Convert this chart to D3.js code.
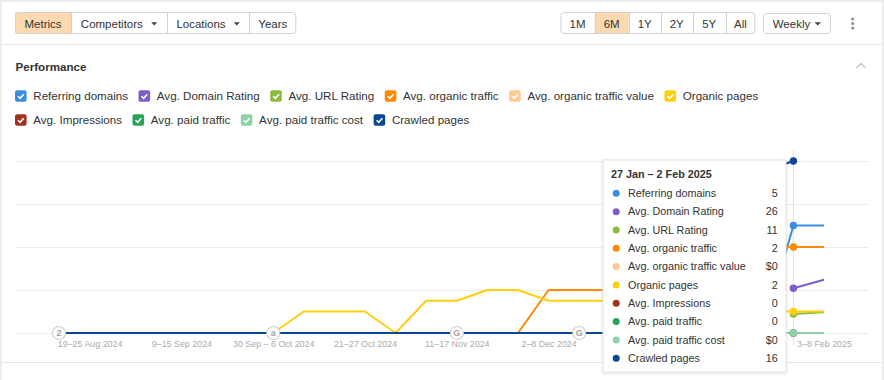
<!DOCTYPE html>
<html><head><meta charset="utf-8">
<script src="https://cdn.jsdelivr.net/npm/d3@7"></script>
<style>
html,body{margin:0;padding:0;background:#ececec;}
svg{display:block;font-family:"Liberation Sans",Arial,sans-serif;}
</style></head><body>
<svg id="c" width="884" height="380"></svg>
<script>
// ---------- DATA ----------
const weeks = ["2024-08-12","2024-08-19","2024-08-26","2024-09-02","2024-09-09","2024-09-16","2024-09-23","2024-09-30","2024-10-07","2024-10-14","2024-10-21","2024-10-28","2024-11-04","2024-11-11","2024-11-18","2024-11-25","2024-12-02","2024-12-09","2024-12-16","2024-12-23","2024-12-30","2025-01-06","2025-01-13","2025-01-20","2025-01-27","2025-02-03"];
const seriesNames = ["Referring domains","Avg. Domain Rating","Avg. URL Rating","Avg. organic traffic","Avg. organic traffic value","Organic pages","Avg. Impressions","Avg. paid traffic","Avg. paid traffic cost","Crawled pages"];
const seriesColors = ["#3a8ee0","#7b5fc6","#8cbd3e","#ff8a00","#ffc890","#ffcf0f","#a3321c","#27a35a","#8ed2a8","#0b4697"];
const referringDomains   = [0,0,0,0,0,0,0,0,0,0,0,0,0,0,0,0,0,0,0,0,0,0,0,0,5,5];
const domainRating       = [null,null,null,null,null,null,null,null,null,null,null,null,null,null,null,null,null,null,null,null,null,null,null,null,26,31];
const urlRating          = [null,null,null,null,null,null,null,null,null,null,null,null,null,null,null,null,null,null,null,null,null,null,null,null,11,12];
const organicTraffic     = [0,0,0,0,0,0,0,0,0,0,0,0,0,0,0,0,1,1,1,1,1,2,2,2,2,2];
const organicTrafficValue= [0,0,0,0,0,0,0,0,0,0,0,0,0,0,0,0,0,0,0,0,0,0,0,0,0,0];
const organicPages       = [0,0,0,0,0,0,0,0,2,2,2,0,3,3,4,4,3,3,3,3,3,2,2,2,2,2];
const impressions        = [0,0,0,0,0,0,0,0,0,0,0,0,0,0,0,0,0,0,0,0,0,0,0,0,0,0];
const paidTraffic        = [0,0,0,0,0,0,0,0,0,0,0,0,0,0,0,0,0,0,0,0,0,0,0,0,0,0];
const paidTrafficCost    = [0,0,0,0,0,0,0,0,0,0,0,0,0,0,0,0,0,0,0,0,0,0,0,0,0,0];
const crawledPages       = [0,0,0,0,0,0,0,0,0,0,0,0,0,0,0,0,0,0,0,0,0,0,12,15,16,null];
const seriesValues = [referringDomains,domainRating,urlRating,organicTraffic,organicTrafficValue,organicPages,impressions,paidTraffic,paidTrafficCost,crawledPages];
const axisMax = [8,100,100,4,1,16,1,1,1,16];
const isCurrency = [false,false,false,false,true,false,false,false,true,false];
// visible tick labels (the two under the tooltip are hidden in the view)
const tickWeeks = ["2024-08-19","2024-09-09","2024-09-30","2024-10-21","2024-11-11","2024-12-02","2025-02-03"];
const tickLabels = ["19–25 Aug 2024","9–15 Sep 2024","30 Sep – 6 Oct 2024","21–27 Oct 2024","11–17 Nov 2024","2–8 Dec 2024","3–8 Feb 2025"];
const annotationWeeks = ["2024-08-12","2024-09-30","2024-11-11","2024-12-09"];
const annotationLabels = ["2","a","G","G"];
const hoverWeek = "2025-01-27";
const hoverTitle = "27 Jan – 2 Feb 2025";
const leftButtons = ["Metrics","Competitors","Locations","Years"];
const rangeButtons = ["1M","6M","1Y","2Y","5Y","All"];

// ---------- DRAW ----------
const svg = d3.select("#c");
const parse = d3.utcParse("%Y-%m-%d");
const dates = weeks.map(parse);
const yTop = 161, yBot = 333;
const x = d3.scaleUtc().domain([dates[0], dates[dates.length-1]]).range([59, 824]);

// card
svg.append("rect").attr("x",2).attr("y",2).attr("width",880).attr("height",400).attr("fill","#fff");

// toolbar
const TXT = "#333";
function btnGroup(bounds, labels, active, arrows){
  const g = svg.append("g");
  labels.forEach((l,i)=>{
    if(i===active){
      g.append("rect").attr("x",bounds[i]).attr("y",12.5).attr("width",bounds[i+1]-bounds[i]).attr("height",21)
        .attr("fill","#fdd9b2");
    }
  });
  g.append("rect").attr("x",bounds[0]+0.5).attr("y",12.5).attr("width",bounds[bounds.length-1]-bounds[0]-1).attr("height",21)
    .attr("rx",3).attr("fill","none").attr("stroke","#d2d2d2");
  for(let i=1;i<bounds.length-1;i++){
    g.append("line").attr("x1",Math.round(bounds[i])+0.5).attr("x2",Math.round(bounds[i])+0.5).attr("y1",13).attr("y2",33).attr("stroke","#d2d2d2");
  }
  labels.forEach((l,i)=>{
    const hasArrow = arrows && arrows[i];
    const cx = (bounds[i]+bounds[i+1])/2 - (hasArrow?7:0);
    g.append("text").attr("x",cx).attr("y",27.8).attr("text-anchor","middle").attr("font-size",11.5).attr("fill",TXT).text(l);
    if(hasArrow){
      const ax = bounds[i+1]-12.5;
      g.append("path").attr("d",`M${ax-3},22.3L${ax+3},22.3L${ax},25.6Z`).attr("fill","#444");
    }
  });
}
btnGroup([15,71,166.7,249.3,296.3], leftButtons, 0, [false,true,true,false]);
btnGroup([560.5,594.7,628.7,660.7,692.7,725.7,755.3], rangeButtons, 1, null);
// weekly
svg.append("rect").attr("x",763.5).attr("y",13.5).attr("width",67).attr("height",20).attr("rx",3).attr("fill","#fff").attr("stroke","#d2d2d2");
svg.append("text").attr("x",772.7).attr("y",27.8).attr("font-size",11.5).attr("fill",TXT).text("Weekly");
svg.append("path").attr("d","M814.5,22.3L821,22.3L817.75,25.6Z").attr("fill","#444");
[19,23.5,28].forEach(cy=>svg.append("circle").attr("cx",852.7).attr("cy",cy).attr("r",1.5).attr("fill","#8a8a8a"));
svg.append("line").attr("x1",2).attr("x2",882).attr("y1",44.5).attr("y2",44.5).attr("stroke","#e8e8e8");

// title
svg.append("text").attr("x",15.5).attr("y",71).attr("font-size",11.6).attr("font-weight","bold").attr("fill",TXT).text("Performance");
svg.append("path").attr("d","M856.5,68L861,63.5L865.5,68").attr("fill","none").attr("stroke","#c4c4c4").attr("stroke-width",1.3);

// legend
let lx = 15, row = 0;
seriesNames.forEach((n,i)=>{
  if(i===6){ row = 1; lx = 15; }
  const cy = row===0 ? 96 : 120;
  const g = svg.append("g").attr("transform",`translate(${lx},${cy-5.8})`);
  g.append("rect").attr("width",11.6).attr("height",11.6).attr("rx",2).attr("fill",seriesColors[i]);
  g.append("path").attr("d","M3,6.1L5.1,8.2L8.8,4").attr("fill","none").attr("stroke","#fff").attr("stroke-width",1.6);
  const t = svg.append("text").attr("x",lx+18.3).attr("y",cy+4.1).attr("font-size",11.6).attr("fill",TXT).text(n);
  lx = lx + 18.3 + t.node().getComputedTextLength() + 10.5;
});

// grid
const grid = d3.scaleLinear().domain([0,4]).range([yBot,yTop]);
svg.append("g").selectAll("line").data(grid.ticks(4)).join("line")
  .attr("x1",15).attr("x2",868).attr("y1",d=>Math.round(grid(d))+0.5).attr("y2",d=>Math.round(grid(d))+0.5)
  .attr("stroke","#ececec");
svg.append("line").attr("x1",2).attr("x2",882).attr("y1",362.5).attr("y2",362.5).attr("stroke","#e6e6e6");

// x axis labels
const xAxis = d3.axisBottom(x).tickValues(tickWeeks.map(parse)).tickFormat((d,i)=>tickLabels[i]).tickSize(0).tickPadding(0);
const ax = svg.append("g").attr("transform","translate(0,340.5)").call(xAxis);
ax.select(".domain").remove();
ax.selectAll("text").attr("font-size",8.9).attr("fill","#ababab").attr("font-family","Liberation Sans, Arial, sans-serif").attr("dy","0.71em");

// hover line
const hx = x(parse(hoverWeek));
svg.append("line").attr("x1",hx).attr("x2",hx).attr("y1",150).attr("y2",345).attr("stroke","#e4e4e4").attr("stroke-width",1.2);

// series lines
const scales = axisMax.map(m=>d3.scaleLinear().domain([0,m]).range([yBot,yTop]));
const lineG = svg.append("g");
seriesValues.forEach((vals,i)=>{
  const line = d3.line().defined(d=>d!=null).x((d,j)=>x(dates[j])).y(d=>scales[i](d));
  lineG.append("path").attr("d",line(vals)).attr("fill","none").attr("stroke",seriesColors[i])
    .attr("stroke-width",2).attr("stroke-linejoin","round");
});

// annotations
annotationWeeks.forEach((w,i)=>{
  const ax0 = x(parse(w));
  svg.append("circle").attr("cx",ax0).attr("cy",yBot).attr("r",6.5).attr("fill","#fff").attr("stroke","#cfcfcf").attr("stroke-width",1.1);
  svg.append("text").attr("x",ax0).attr("y",yBot+3.2).attr("text-anchor","middle").attr("font-size",9).attr("font-weight","bold").attr("fill","#a3a3a3").text(annotationLabels[i]);
});

// hover dots
const hi = weeks.indexOf(hoverWeek);
seriesValues.forEach((vals,i)=>{
  if(vals[hi]==null) return;
  svg.append("circle").attr("cx",hx).attr("cy",scales[i](vals[hi])).attr("r",3.7).attr("fill",seriesColors[i]);
});

// tooltip
const defs = svg.append("defs");
const f = defs.append("filter").attr("id","sh").attr("x","-10%").attr("y","-10%").attr("width","120%").attr("height","120%");
f.append("feDropShadow").attr("dx",0).attr("dy",1).attr("stdDeviation",1.5).attr("flood-color","#000").attr("flood-opacity",0.12);
const tt = svg.append("g");
tt.append("rect").attr("x",603).attr("y",160).attr("width",183).attr("height",212).attr("fill","#fff").attr("stroke","#e2e2e2").attr("filter","url(#sh)");
tt.append("text").attr("x",611).attr("y",177.5).attr("font-size",10.8).attr("font-weight","bold").attr("fill",TXT).text(hoverTitle);
seriesNames.forEach((n,i)=>{
  const cy = 193.3 + i*18.33;
  tt.append("circle").attr("cx",616.2).attr("cy",cy).attr("r",3.5).attr("fill",seriesColors[i]);
  tt.append("text").attr("x",628).attr("y",cy+3.8).attr("font-size",10.8).attr("fill",TXT).text(n);
  const v = seriesValues[i][hi];
  tt.append("text").attr("x",777.7).attr("y",cy+3.8).attr("text-anchor","end").attr("font-size",10.8).attr("fill",TXT)
    .text((isCurrency[i]?"$":"") + d3.format(",")(v));
});
</script>
</body></html>
